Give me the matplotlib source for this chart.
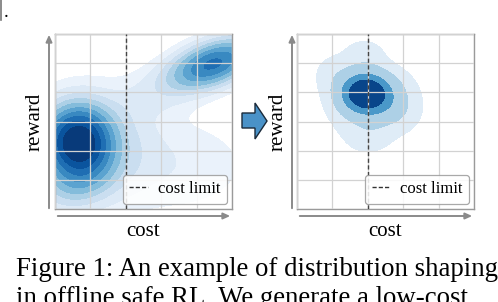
import numpy as np
import matplotlib
matplotlib.use("Agg")
import matplotlib.pyplot as plt
from matplotlib.lines import Line2D
from matplotlib.patches import Polygon, FancyArrowPatch

plt.rcParams['font.family'] = ['Liberation Serif', 'DejaVu Serif']

# ---------------- data: density components (Gaussian mixture) ----------------
# left panel: original offline dataset
left_cx  = [0.65, 0.90, 0.70, 4.50, 3.60, 3.30, 2.70]
left_cy  = [2.30, 2.00, 1.00, 5.00, 4.50, 1.50, 3.60]
left_sx  = [0.55, 1.00, 0.60, 0.70, 0.90, 1.40, 0.80]
left_sy  = [0.70, 1.10, 0.55, 0.50, 0.55, 1.00, 0.45]
left_rho = [0.00, 0.10, 0.30, 0.45, 0.50, 0.00, 0.20]
left_w   = [0.80, 0.45, 0.10, 0.36, 0.066, 0.12, 0.018]

# right panel: shaped (generated) dataset
right_cx  = [1.92, 2.45, 2.00, 1.90, 1.10, 2.90, 1.40]
right_cy  = [3.97, 3.70, 2.65, 5.20, 4.60, 3.30, 3.20]
right_sx  = [0.42, 0.45, 0.40, 0.35, 0.35, 0.35, 0.35]
right_sy  = [0.42, 0.50, 0.40, 0.35, 0.40, 0.40, 0.40]
right_rho = [0.00, 0.00, 0.00, 0.00, 0.00, 0.00, 0.00]
right_w   = [1.00, 0.25, 0.05, 0.03, 0.03, 0.02, 0.015]

cost_limit = 2.0
x_range = (0, 5)
y_range = (0, 6)
legend_label = "cost limit"
x_label = "cost"
y_label = "reward"
caption_lines = ["Figure 1: An example of distribution shaping",
                 "in offline safe RL. We generate a low-cost"]

# contour thresholds as fractions of the peak density
left_levels = [0.015, 0.04, 0.08, 0.13, 0.19, 0.27, 0.36, 0.47, 0.60, 0.75]
right_levels = [0.012, 0.08, 0.30, 0.55]


def mixture(X, Y, cx, cy, sx, sy, rho, w):
    Z = np.zeros_like(X)
    for a, b, s1, s2, r, ww in zip(cx, cy, sx, sy, rho, w):
        dx = (X - a) / s1
        dy = (Y - b) / s2
        q = (dx**2 - 2*r*dx*dy + dy**2) / (1 - r**2)
        Z += ww * np.exp(-0.5*q) / (2*np.pi*s1*s2*np.sqrt(1 - r**2))
    return Z


W, H = 498, 302
fig = plt.figure(figsize=(W/100, H/100), dpi=100)


def fx(px):
    return px / W


def fy(py):
    return 1 - py / H


gx = np.linspace(-1, 6, 400)
gy = np.linspace(-1, 7, 400)
X, Y = np.meshgrid(gx, gy)

cmap = plt.get_cmap('Blues')


def panel(left_px, comps, fracs, cpos, lab_x):
    ax = fig.add_axes([fx(left_px), fy(209), fx(177), 175/H])
    Z = mixture(X, Y, *comps)
    Z = Z / Z.max()
    lv = list(fracs) + [1.01]
    cols = [cmap(v) for v in cpos]
    ax.contourf(X, Y, Z, levels=lv, colors=cols, zorder=1)
    ax.set_xlim(*x_range)
    ax.set_ylim(*y_range)
    ax.set_xticks(np.arange(x_range[0], x_range[1] + 1))
    ax.set_yticks(np.arange(y_range[0], y_range[1] + 1))
    ax.tick_params(length=0, labelbottom=False, labelleft=False)
    ax.grid(True, color='#d2d2d2', lw=0.9, zorder=2)
    ax.set_axisbelow(False)
    for s in ax.spines.values():
        s.set_color('#9a9a9a')
        s.set_linewidth(1.0)
    ax.axvline(cost_limit, color='#444444', lw=1.0, ls=(0, (3, 1.8)), zorder=3)
    h = Line2D([], [], color='#333333', lw=1.0, ls=(0, (3, 1.5)))
    leg = ax.legend([h], [legend_label], loc='lower right', fontsize=12,
                    handlelength=1.1, handletextpad=0.6, borderpad=0.4,
                    borderaxespad=0.3, fancybox=True, framealpha=0.85,
                    edgecolor='#9a9a9a')
    leg.get_frame().set_linewidth(0.9)
    # axis arrows
    fig.add_artist(FancyArrowPatch(
        (fx(lab_x), fy(211)), (fx(lab_x), fy(32)), transform=fig.transFigure,
        arrowstyle='-|>,head_length=4,head_width=1.8', color='#8a8a8a', lw=1.4))
    fig.add_artist(FancyArrowPatch(
        (fx(left_px), fy(216)), (fx(left_px + 178), fy(216)), transform=fig.transFigure,
        arrowstyle='-|>,head_length=4,head_width=1.8', color='#8a8a8a', lw=1.4))
    fig.text(fx(left_px + 88), fy(232), x_label, fontsize=15, ha='center', va='center')
    fig.text(fx(lab_x - 14), fy(122), y_label, fontsize=15, ha='center', va='center',
             rotation=90)
    return ax


panel(55, (left_cx, left_cy, left_sx, left_sy, left_rho, left_w), left_levels,
      [0.07, 0.14, 0.23, 0.33, 0.44, 0.55, 0.66, 0.76, 0.86, 0.96], 49)
panel(297, (right_cx, right_cy, right_sx, right_sy, right_rho, right_w), right_levels,
      [0.12, 0.33, 0.60, 0.92], 292)

# block arrow between panels
pts = [(242, 113), (255, 113), (255, 103), (267, 121), (255, 139), (255, 128), (242, 128)]
fig.add_artist(Polygon([(fx(a), fy(b)) for a, b in pts], closed=True,
                       transform=fig.transFigure, facecolor='#4a92c8',
                       edgecolor='#1a2a3a', lw=1.0))

# fragment of previous page text at the top-left corner
fig.add_artist(Line2D([fx(0.6), fx(0.6)], [fy(0), fy(20)], transform=fig.transFigure,
                      color='#777777', lw=1.2))
fig.text(fx(4), fy(17), ".", fontsize=14, ha='left', va='baseline')

# caption (second line is cut by the page crop, as in the reference)
fig.text(fx(16), fy(276), caption_lines[0], fontsize=19.3, ha='left', va='baseline')
fig.text(fx(16), fy(305), caption_lines[1], fontsize=19.3, ha='left', va='baseline')

fig.savefig('out.png', dpi=100)
